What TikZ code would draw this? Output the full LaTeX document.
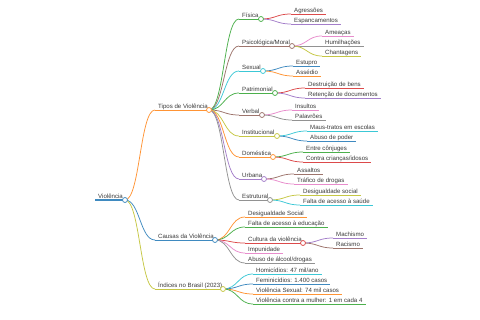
\documentclass[tikz,border=0pt]{standalone}
\usepackage{fontspec}
\setmainfont{Liberation Sans}
\definecolor{c0}{HTML}{3F8AC0}
\definecolor{c1}{HTML}{FF9435}
\definecolor{c2}{HTML}{4CB04C}
\definecolor{c3}{HTML}{DC4A4B}
\definecolor{c4}{HTML}{A47ECA}
\definecolor{c5}{HTML}{9D746C}
\definecolor{c6}{HTML}{E88CCC}
\definecolor{c7}{HTML}{929292}
\definecolor{c8}{HTML}{C6C744}
\definecolor{c9}{HTML}{3CC8D6}
\definecolor{txt}{HTML}{3A3A3A}
\tikzset{
  mmtext/.style={inner sep=0pt, anchor=base west, text=txt, font=\fontsize{6.1}{7}\selectfont},
  mmline/.style={line width=0.75pt},
  mmlink/.style={line width=0.75pt, out=0, in=180, distance=15pt},
  mmcirc/.style={circle, fill=white, line width=0.75pt, minimum size=5pt, inner sep=0pt},
}
% parent node: name, x start, x end, y, colour, text
\newcommand{\mmp}[6]{%
  \coordinate (#1-s) at (#2,#4);
  \coordinate (#1-e) at (#3,#4);
  \node[mmtext] (#1) at ([xshift=3pt,yshift=1.8pt]#1-s) {#6};
  \draw[mmline,#5] (#1-s) -- (#1-e);
}
% leaf node: name, x start, y, colour, text
\newcommand{\mml}[5]{%
  \coordinate (#1-s) at (#2,#3);
  \node[mmtext] (#1) at ([xshift=3pt,yshift=1.8pt]#1-s) {#5};
  \coordinate (#1-t) at ([xshift=3pt]#1.base east);
  \coordinate (#1-e) at (#1-s -| #1-t);
  \draw[mmline,#4] (#1-s) -- (#1-e);
}
\newcommand{\mmlk}[3]{\draw[mmlink,#3] (#1-e) to (#2-s);}
\begin{document}
\begin{tikzpicture}[x=1pt,y=-1pt]
\useasboundingbox[fill=white] (0,0) rectangle (480,320);
% root
\mmp{root}{95}{125}{200}{c0,line width=1.3pt}{Violência}
% Tipos
\mmp{tipos}{155}{209}{110}{c1}{Tipos de Violência}
\mmp{fis}{239}{261}{19}{c2}{Física}
\mml{agr}{291}{14}{c3}{Agressões}
\mml{esp}{291}{24}{c4}{Espancamentos}
\mmp{psi}{239}{292}{46}{c5}{Psicológica/Moral}
\mml{ame}{322}{36}{c6}{Ameaças}
\mml{hum}{322}{46}{c7}{Humilhações}
\mml{cha}{322}{56}{c8}{Chantagens}
\mmp{sex}{239}{263}{71}{c9}{Sexual}
\mml{est}{293}{66}{c0}{Estupro}
\mml{ass}{293}{76}{c1}{Assédio}
\mmp{pat}{239}{275}{93}{c2}{Patrimonial}
\mml{des}{305}{88}{c3}{Destruição de bens}
\mml{ret}{305}{98}{c4}{Retenção de documentos}
\mmp{ver}{239}{262}{115}{c5}{Verbal}
\mml{ins}{292}{110}{c6}{Insultos}
\mml{pal}{292}{120}{c7}{Palavrões}
\mmp{inst}{239}{277}{136}{c8}{Institucional}
\mml{mau}{307}{131}{c9}{Maus-tratos em escolas}
\mml{abp}{307}{141}{c0}{Abuso de poder}
\mmp{dom}{239}{273}{157}{c1}{Doméstica}
\mml{ent}{303}{152}{c2}{Entre cônjuges}
\mml{con}{303}{162}{c3}{Contra crianças/idosos}
\mmp{urb}{239}{264}{179}{c4}{Urbana}
\mml{asl}{294}{174}{c5}{Assaltos}
\mml{tra}{294}{184}{c6}{Tráfico de drogas}
\mmp{estr}{239}{270}{200}{c7}{Estrutural}
\mml{dsg}{300}{195}{c8}{Desigualdade social}
\mml{fsa}{300}{205}{c9}{Falta de acesso à saúde}
% Causas
\mmp{cau}{155}{215}{240}{c0}{Causas da Violência}
\mml{dsS}{245}{217}{c1}{Desigualdade Social}
\mml{fed}{245}{227}{c2}{Falta de acesso à educação}
\mmp{cul}{245}{303}{243}{c3}{Cultura da violência}
\mml{mac}{333}{238}{c4}{Machismo}
\mml{rac}{333}{248}{c5}{Racismo}
\mml{imp}{245}{253}{c6}{Impunidade}
\mml{alc}{245}{263}{c7}{Abuso de álcool/drogas}
% Indices
\mmp{ind}{155}{223}{289}{c8}{Índices no Brasil (2023)}
\mml{hom}{253}{274}{c9}{Homicídios: 47 mil/ano}
\mml{fem}{253}{284}{c0}{Feminicídios: 1.400 casos}
\mml{vsx}{253}{294}{c1}{Violência Sexual: 74 mil casos}
\mml{vcm}{253}{304}{c2}{Violência contra a mulher: 1 em cada 4}
% links
\mmlk{root}{tipos}{c1}
\mmlk{root}{cau}{c0}
\mmlk{root}{ind}{c8}
\mmlk{tipos}{fis}{c2}
\mmlk{tipos}{psi}{c5}
\mmlk{tipos}{sex}{c9}
\mmlk{tipos}{pat}{c2}
\mmlk{tipos}{ver}{c5}
\mmlk{tipos}{inst}{c8}
\mmlk{tipos}{dom}{c1}
\mmlk{tipos}{urb}{c4}
\mmlk{tipos}{estr}{c7}
\mmlk{fis}{agr}{c3}
\mmlk{fis}{esp}{c4}
\mmlk{psi}{ame}{c6}
\mmlk{psi}{hum}{c7}
\mmlk{psi}{cha}{c8}
\mmlk{sex}{est}{c0}
\mmlk{sex}{ass}{c1}
\mmlk{pat}{des}{c3}
\mmlk{pat}{ret}{c4}
\mmlk{ver}{ins}{c6}
\mmlk{ver}{pal}{c7}
\mmlk{inst}{mau}{c9}
\mmlk{inst}{abp}{c0}
\mmlk{dom}{ent}{c2}
\mmlk{dom}{con}{c3}
\mmlk{urb}{asl}{c5}
\mmlk{urb}{tra}{c6}
\mmlk{estr}{dsg}{c8}
\mmlk{estr}{fsa}{c9}
\mmlk{cau}{dsS}{c1}
\mmlk{cau}{fed}{c2}
\mmlk{cau}{cul}{c3}
\mmlk{cau}{imp}{c6}
\mmlk{cau}{alc}{c7}
\mmlk{cul}{mac}{c4}
\mmlk{cul}{rac}{c5}
\mmlk{ind}{hom}{c9}
\mmlk{ind}{fem}{c0}
\mmlk{ind}{vsx}{c1}
\mmlk{ind}{vcm}{c2}
% circles
\node[mmcirc,draw=c0] (root-c) at (root-e) {};
\node[mmcirc,draw=c1] (tipos-c) at (tipos-e) {};
\node[mmcirc,draw=c2] (fis-c) at (fis-e) {};
\node[mmcirc,draw=c5] (psi-c) at (psi-e) {};
\node[mmcirc,draw=c9] (sex-c) at (sex-e) {};
\node[mmcirc,draw=c2] (pat-c) at (pat-e) {};
\node[mmcirc,draw=c5] (ver-c) at (ver-e) {};
\node[mmcirc,draw=c8] (inst-c) at (inst-e) {};
\node[mmcirc,draw=c1] (dom-c) at (dom-e) {};
\node[mmcirc,draw=c4] (urb-c) at (urb-e) {};
\node[mmcirc,draw=c7] (estr-c) at (estr-e) {};
\node[mmcirc,draw=c0] (cau-c) at (cau-e) {};
\node[mmcirc,draw=c3] (cul-c) at (cul-e) {};
\node[mmcirc,draw=c8] (ind-c) at (ind-e) {};
\end{tikzpicture}
\end{document}
